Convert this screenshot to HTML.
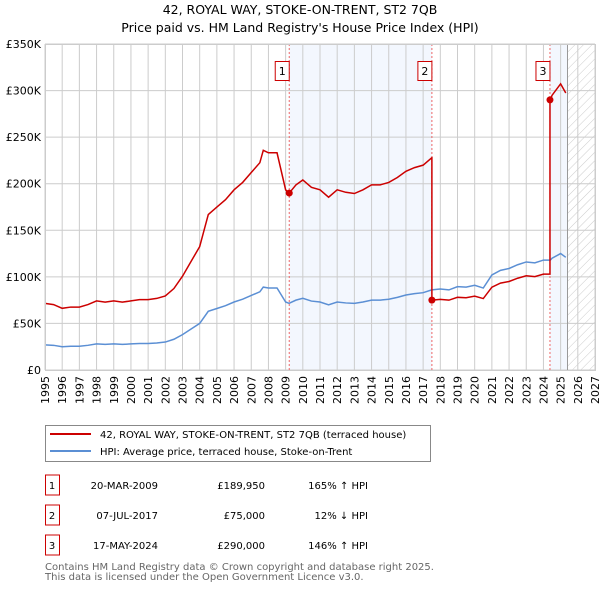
<!DOCTYPE html>
<html><head><meta charset="utf-8"><style>
body{margin:0;background:#fff;font-family:"DejaVu Sans","Liberation Sans",sans-serif;}
svg text{font-family:"DejaVu Sans","Liberation Sans",sans-serif;}
</style></head><body>
<svg id="chart" width="600" height="590" viewBox="0 0 600 590" xmlns="http://www.w3.org/2000/svg">
<defs><pattern id="hatch" width="6" height="6" patternUnits="userSpaceOnUse" patternTransform="rotate(45)"><line x1="0" y1="0" x2="0" y2="6" stroke="#ccc" stroke-width="1"/></pattern></defs>
<text x="300" y="14" text-anchor="middle" font-size="12.5">42, ROYAL WAY, STOKE-ON-TRENT, ST2 7QB</text>
<text x="300" y="32" text-anchor="middle" font-size="12.5">Price paid vs. HM Land Registry's House Price Index (HPI)</text>
<g id="plot"></g>
<g>
<rect x="45.5" y="425.5" width="385" height="36" fill="#fff" stroke="#888"/>
<line x1="50" y1="434" x2="91" y2="434" stroke="#cc0000" stroke-width="2"/>
<text x="100" y="438" font-size="10">42, ROYAL WAY, STOKE-ON-TRENT, ST2 7QB (terraced house)</text>
<line x1="50" y1="451" x2="91" y2="451" stroke="#5b8fd4" stroke-width="2"/>
<text x="100" y="455" font-size="10">HPI: Average price, terraced house, Stoke-on-Trent</text>
</g>
<g id="table" font-size="10"></g>
<text x="45" y="570" font-size="10" fill="#666">Contains HM Land Registry data © Crown copyright and database right 2025.</text>
<text x="45" y="580" font-size="10" fill="#666">This data is licensed under the Open Government Licence v3.0.</text>
</svg>
<script>
const hpiYears=[1995,1995.5,1996,1996.5,1997,1997.5,1998,1998.5,1999,1999.5,2000,2000.5,2001,2001.5,2002,2002.5,2003,2003.5,2004,2004.5,2005,2005.5,2006,2006.5,2007,2007.5,2007.7,2008,2008.5,2009,2009.2,2009.6,2010,2010.5,2011,2011.5,2012,2012.5,2013,2013.5,2014,2014.5,2015,2015.5,2016,2016.5,2017,2017.5,2018,2018.5,2019,2019.5,2020,2020.5,2021,2021.5,2022,2022.5,2023,2023.5,2024,2024.4,2024.5,2025,2025.3];
const hpiValues=[27,26.5,25,25.5,25.5,26.5,28,27.5,28,27.5,28,28.5,28.5,29,30,33,38,44,50,63,66,69,73,76,80,84,89,88,88,73,71.6,75,77,74,73,70,73,72,71.5,73,75,75,76,78,80.5,82,83,86,87,86,89.5,89,91,88,102,107,109,113,116,115,118,118,120,125,121];
const saleYears=[2009.21,2017.51,2024.38];
const salePrices=[189.95,75,290];
const saleLabels=["1","2","3"];
const saleDates=["20-MAR-2009","07-JUL-2017","17-MAY-2024"];
const salePriceText=["£189,950","£75,000","£290,000"];
const saleHpiText=["165% ↑ HPI","12% ↓ HPI","146% ↑ HPI"];
const yTicks=[0,50,100,150,200,250,300,350];
const yTickLabels=["£0","£50K","£100K","£150K","£200K","£250K","£300K","£350K"];
const xTicks=[1995,1996,1997,1998,1999,2000,2001,2002,2003,2004,2005,2006,2007,2008,2009,2010,2011,2012,2013,2014,2015,2016,2017,2018,2019,2020,2021,2022,2023,2024,2025,2026,2027];

const NS="http://www.w3.org/2000/svg";
const X0=45,X1=595,Y0=370,Y1=44;
const xs=y=>X0+(y-1995)/(2027-1995)*(X1-X0);
const ys=v=>Y0-v/350*(Y0-Y1);
const plot=document.getElementById('plot');
function mk(tag,attrs,parent){const e=document.createElementNS(NS,tag);for(const k in attrs)e.setAttribute(k,attrs[k]);(parent||plot).appendChild(e);return e;}
function hpiAt(t){for(let i=0;i<hpiYears.length-1;i++){if(t<=hpiYears[i+1]){const f=(t-hpiYears[i])/(hpiYears[i+1]-hpiYears[i]);return hpiValues[i]+f*(hpiValues[i+1]-hpiValues[i]);}}return hpiValues[hpiValues.length-1];}

const band1=mk('rect',{x:xs(saleYears[0]),y:Y1,width:xs(saleYears[1])-xs(saleYears[0]),height:Y0-Y1,fill:'#eef3fd',opacity:0.7});


const band2=mk('rect',{x:xs(saleYears[2]),y:Y1,width:xs(2025.4)-xs(saleYears[2]),height:Y0-Y1,fill:'#eef3fd',opacity:0.7});


const hat=mk('rect',{x:xs(2025.4),y:Y1,width:X1-xs(2025.4),height:Y0-Y1,fill:'url(#hatch)'});


xTicks.forEach(t=>{const l=mk('line',{x1:xs(t),x2:xs(t),y1:Y1,y2:Y0,stroke:'#ccc','stroke-width':1});


const px=xs(t)+4,py=Y0+6;
const tx=mk('text',{x:px,y:py,'text-anchor':'end','font-size':11,transform:'rotate(-90 '+px+' '+py+')'});tx.textContent=t;

});
yTicks.forEach((v,i)=>{const l=mk('line',{x1:X0,x2:X1,y1:ys(v),y2:ys(v),stroke:'#ccc','stroke-width':1});


const tx=mk('text',{x:X0-4,y:ys(v)+4,'text-anchor':'end','font-size':11});tx.textContent=yTickLabels[i];

});
mk('line',{x1:xs(2025.4),x2:xs(2025.4),y1:Y1,y2:Y0,stroke:'#999','stroke-width':1});
saleYears.forEach(s=>{const l=mk('line',{x1:xs(s),x2:xs(s),y1:Y1,y2:Y0,stroke:'#e66','stroke-width':1,'stroke-dasharray':'2,2'});

});
const hp=mk('polyline',{points:hpiYears.map((t,i)=>xs(t)+','+ys(hpiValues[i])).join(' '),fill:'none',stroke:'#5b8fd4','stroke-width':1.5});


let pts=[];
const bounds=[1995,saleYears[0],saleYears[1],saleYears[2],2025.3];
for(let k=0;k<4;k++){
  const si=k===0?0:k-1;
  const ratio=salePrices[si]/hpiAt(saleYears[si]);
  const a=bounds[k],b=bounds[k+1];
  if(k>=2){const prevRatio=salePrices[k-2]/hpiAt(saleYears[k-2]);pts.push([a,hpiAt(a)*prevRatio]);}
  pts.push([a,hpiAt(a)*ratio]);
  hpiYears.forEach((t,i)=>{if(t>a&&t<b)pts.push([t,hpiValues[i]*ratio]);});
  if(k===0)pts.push([b,hpiAt(b)*ratio]);
}
pts.push([2025.3,hpiAt(2025.3)*salePrices[2]/hpiAt(saleYears[2])]);
const pl=mk('polyline',{points:pts.map(p=>xs(p[0])+','+ys(p[1])).join(' '),fill:'none',stroke:'#cc0000','stroke-width':1.5});


saleYears.forEach((s,i)=>{const c=mk('circle',{cx:xs(s),cy:ys(salePrices[i]),r:3.5,fill:'#cc0000'});


const r=mk('rect',{x:xs(s)-14,y:61.5,width:14,height:19,fill:'#fff',stroke:'#cc0000'});


const t=mk('text',{x:xs(s)-7,y:75,'text-anchor':'middle','font-size':11});t.textContent=saleLabels[i];

});
mk('rect',{x:X0+0.5,y:Y1+0.5,width:X1-X0,height:Y0-Y1,fill:'none',stroke:'#ccc'});
const tb=document.getElementById('table');
saleYears.forEach((s,i)=>{const y=487+i*30;
const r=mk('rect',{x:45.5,y:y-12,width:14,height:20,fill:'#fff',stroke:'#cc0000'},tb);


const vals=[[52,'middle',saleLabels[i]],[158,'end',saleDates[i]],[265,'end',salePriceText[i]],[368,'end',saleHpiText[i]]];
vals.forEach(v=>{const t=mk('text',{x:v[0],y:y+2,'text-anchor':v[1]},tb);t.textContent=v[2];

});});
</script>
</body></html>
